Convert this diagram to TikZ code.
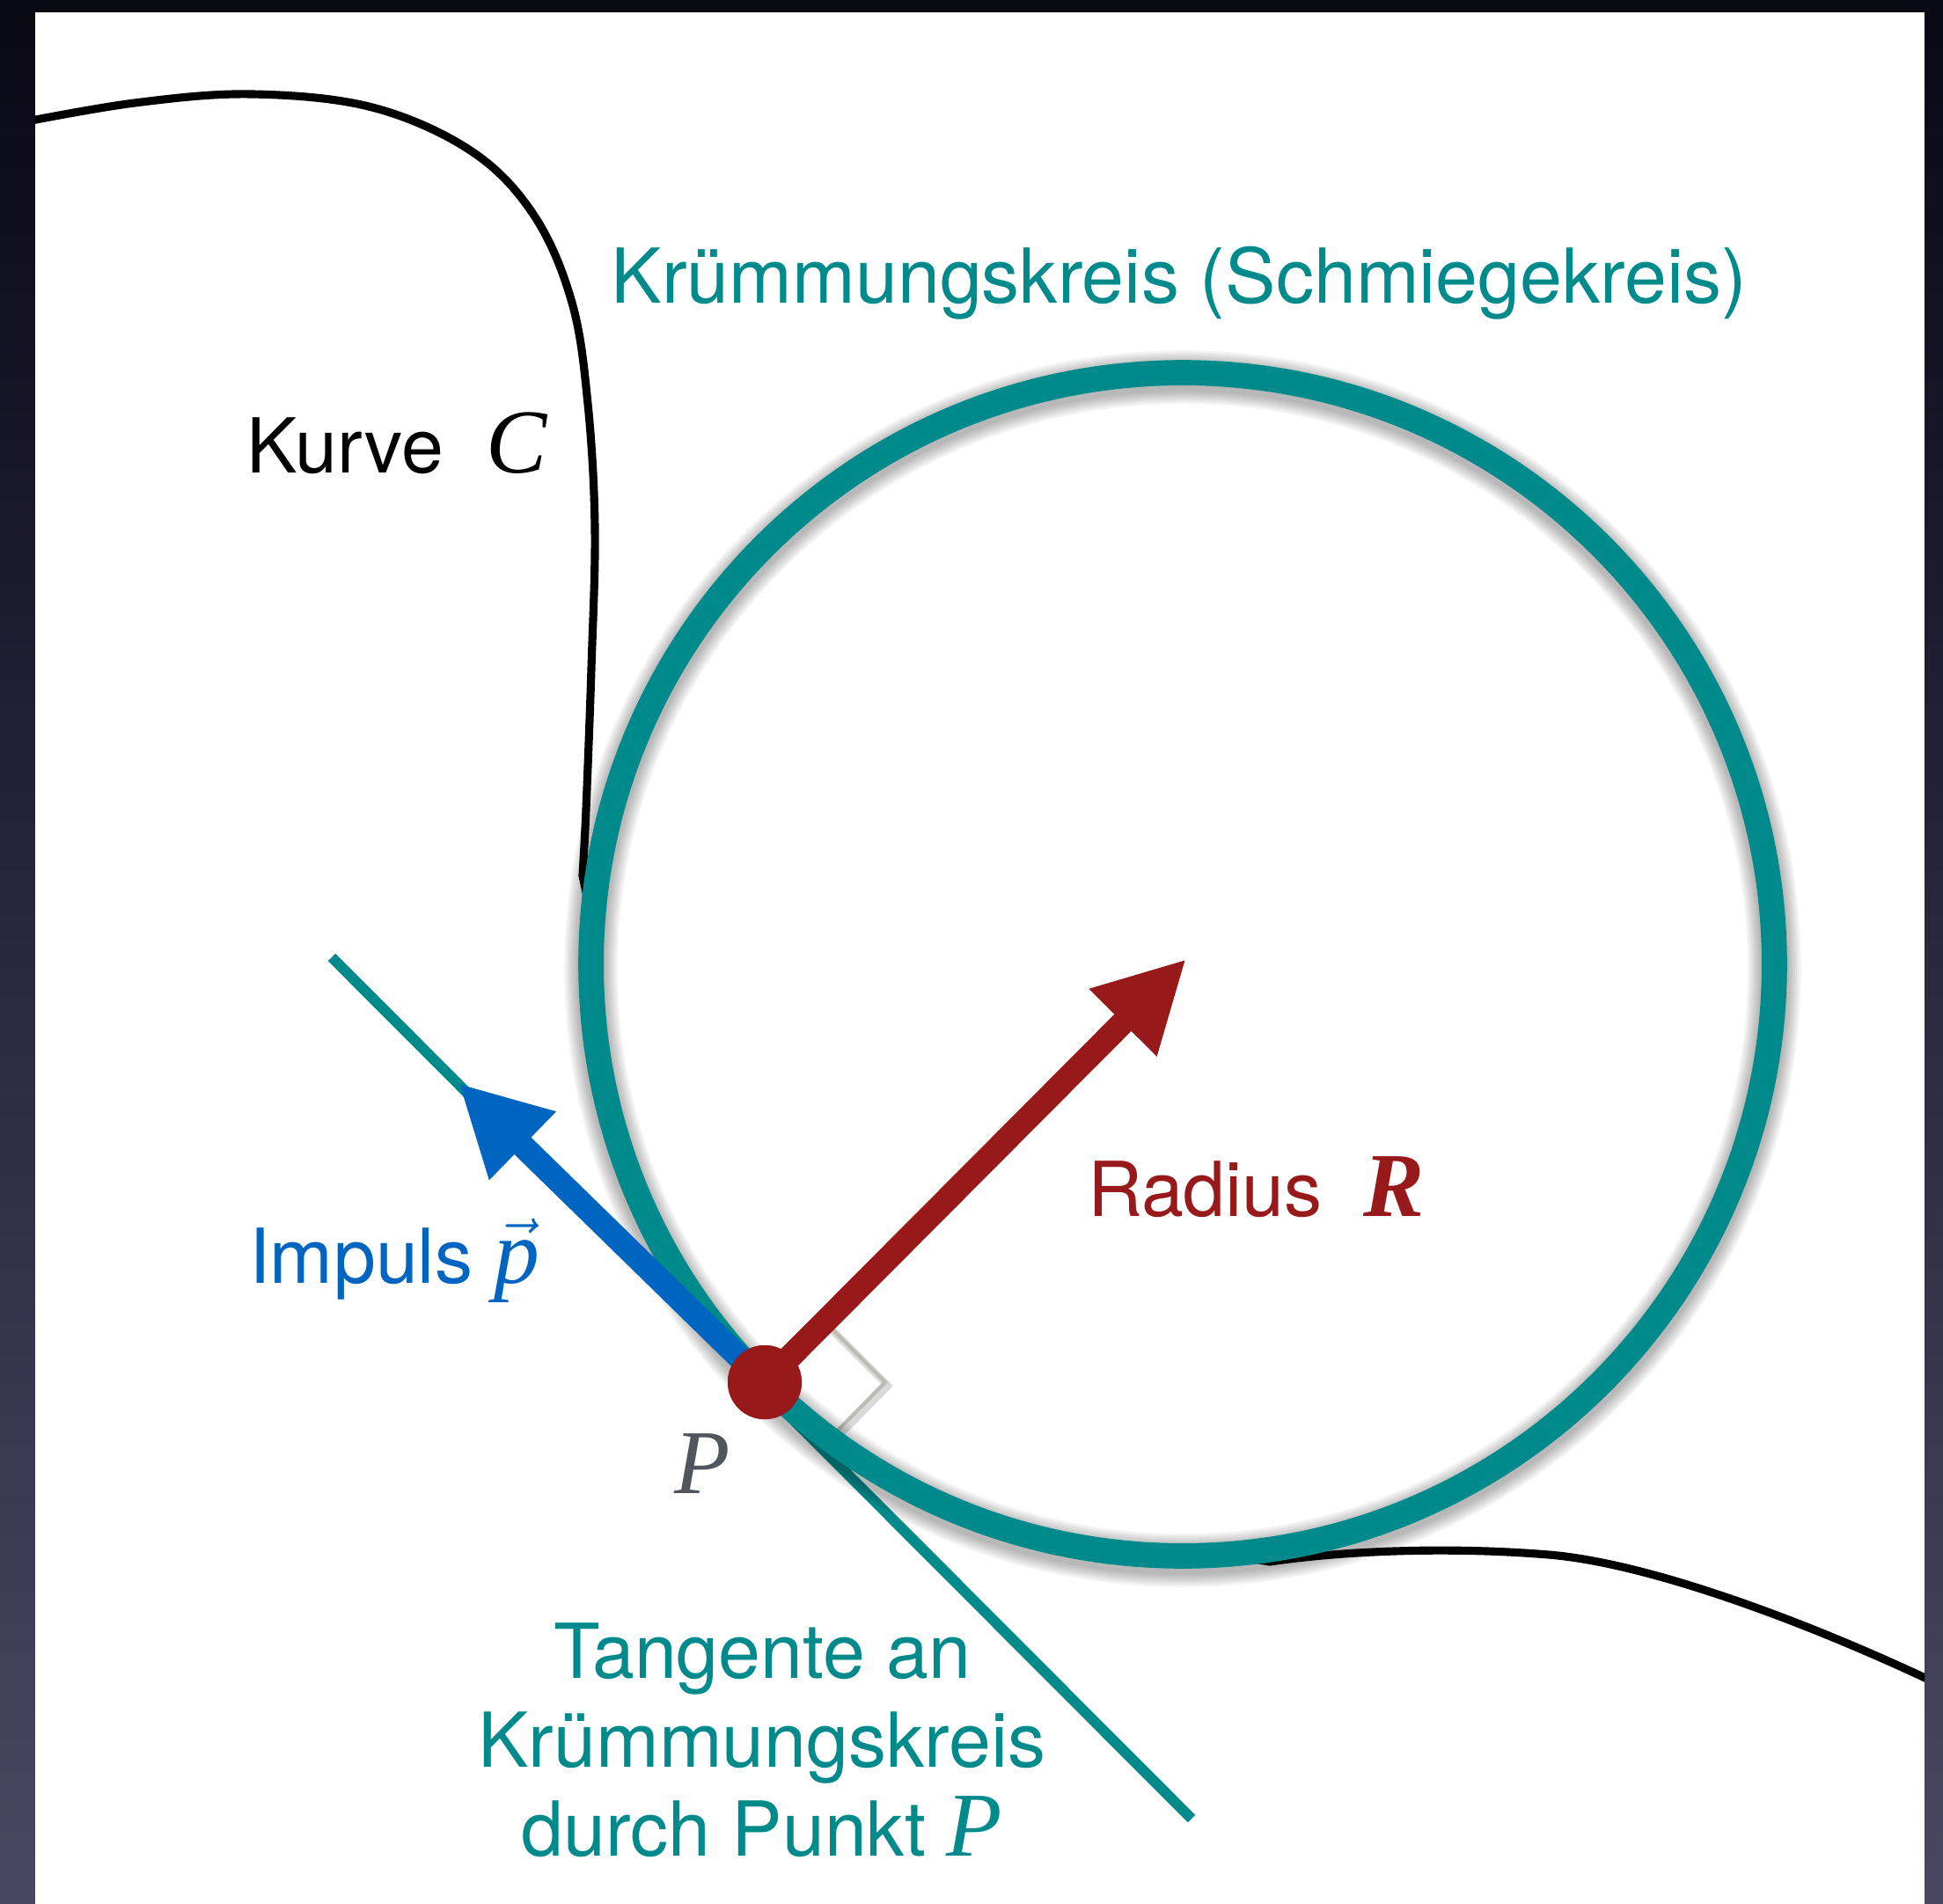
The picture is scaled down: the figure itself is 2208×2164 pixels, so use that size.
\RequirePackage{fix-cm}
\documentclass[tikz,border=0pt]{standalone}
\usepackage{fontspec}
\setmainfont{TeX Gyre Heros}
\newfontfamily\timesfont{Liberation Serif}
\usetikzlibrary{arrows.meta}
\definecolor{tealc}{RGB}{0,138,140}
\definecolor{redc}{RGB}{152,25,25}
\definecolor{bluec}{RGB}{0,101,192}
\definecolor{grayp}{RGB}{80,85,94}
\definecolor{markc}{RGB}{188,188,180}
\definecolor{bgbot}{RGB}{102,102,126}
\definecolor{bgmid}{RGB}{72,72,98}
\definecolor{bgmid2}{RGB}{40,40,62}
\definecolor{bgdark}{RGB}{14,14,30}
\pgfdeclareverticalshading{bgshade}{100bp}{color(0bp)=(bgbot); color(25bp)=(bgmid); color(50bp)=(bgmid2); color(70bp)=(bgdark); color(85bp)=(black); color(100bp)=(black)}
\newcommand\timesit[1]{{\timesfont\fontsize{29.5}{32}\selectfont\itshape #1}}
\newcommand\timesbi[1]{{\timesfont\fontsize{29.5}{32}\selectfont\bfseries\itshape #1}}
\begin{document}
\begin{tikzpicture}[x=0.01cm,y=-0.01cm,
  sans/.style={inner sep=0pt, outer sep=0pt, font=\fontsize{24.5}{29}\selectfont},
  kurveline/.style={line width=2.6pt, black},
  tanline/.style={draw=tealc, line width=3.4pt},
  vecarrow/.style={line width=7.7pt, -{Triangle[length=1.02cm,width=1.01cm]}},
  markline/.style={draw=markc, line width=1.2pt, line join=miter},
  shadowring/.style={draw=black, opacity=0.045}]
\useasboundingbox (0,0) rectangle (2208,2164);
% background frame
\shade[shading=bgshade] (0,0) rectangle (2208,2164);
\fill[white] (40,14) rectangle (2187,2164);
% curve C
\begin{scope}
\clip (40,14) rectangle (2187,2164);
\draw[kurveline] plot[smooth, tension=0.6] coordinates {(20,140) (153,117) (286,107) (423,122) (536,172) (607,245) (650,344) (668,459) (676,600) (672,760) (666,920) (662,995)} -- (678,1070);
\draw[kurveline] (1400,1768) -- (1443,1775) .. controls (1530,1762) and (1650,1758) .. (1760,1767) .. controls (1880,1777) and (2070,1850) .. (2215,1920);
\end{scope}
% named points
\coordinate (T1) at (377,1088);
\coordinate (T2) at (1354,2067);
\coordinate (BT) at (521,1231);
\coordinate (RT) at (1348,1090);
\coordinate (MA) at (938,1503);
\coordinate (MK) at (1006,1571);
\coordinate (MB) at (938,1640);
% tangent line
\draw[tanline] (T1) -- (T2);
% right-angle marker
\draw[draw=black, opacity=0.15, line width=2.4pt] ([shift={(3,4)}]MA) -- ([shift={(3,4)}]MK) -- ([shift={(3,4)}]MB);
\draw[markline] (MA) -- (MK) -- (MB);
% shadow of the osculating circle
\foreach \w in {9.5pt,10.8pt,12.1pt,13.4pt,14.7pt,16.0pt,17.3pt}{
  \draw[shadowring, line width=\w] (1344,1101) circle[radius=6.72cm];
}
% osculating circle
\node[circle, draw=tealc, line width=8.2pt, minimum size=13.44cm, inner sep=0pt, outer sep=0pt] (osc) at (1344,1096) {};
% point P
\node[circle, fill=redc, minimum size=0.84cm, inner sep=0pt, outer sep=0pt] (Pdot) at (869,1571) {};
% radius and momentum vectors
\draw[vecarrow, redc] (Pdot.center) -- (RT);
\draw[vecarrow, bluec] (Pdot.center) -- (BT);
\node[circle, fill=redc, minimum size=0.84cm, inner sep=0pt, outer sep=0pt] (Pdot2) at (Pdot.center) {};
% labels
\node[sans, text=tealc, anchor=base] (title) at (1340,345) {Krümmungskreis (Schmiegekreis)};
\node[sans, anchor=base west] (kurvelbl) at (280,538) {Kurve\hspace{0.48cm}\timesit{C}};
\node[sans, text=redc, anchor=base west] (radlbl) at (1236,1382) {Radius\hspace{0.47cm}\timesbi{R}};
\node[sans, text=bluec, anchor=base west] (implbl) at (283,1458) {Impuls\hspace{0.24cm}$\vec{\hbox{\timesit{p}}}$};
\node[inner sep=0pt, outer sep=0pt, anchor=base west, text=grayp] (plbl) at (766,1697) {\timesit{P}};
\node[sans, text=tealc, anchor=base] (tan1) at (866,1907) {Tangente an};
\node[sans, text=tealc, anchor=base] (tan2) at (866,2008) {Krümmungskreis};
\node[sans, text=tealc, anchor=base] (tan3) at (866,2109) {durch Punkt \timesit{P}};
\end{tikzpicture}
\end{document}
